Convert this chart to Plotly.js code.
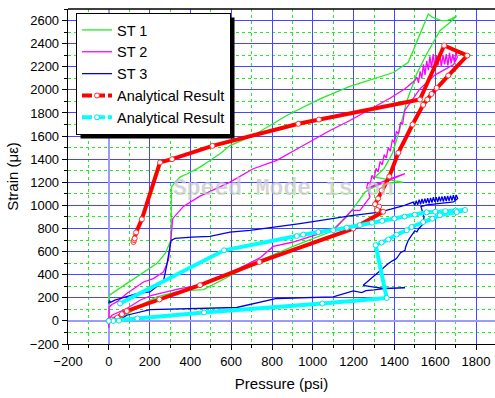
<!DOCTYPE html>
<html><head><meta charset="utf-8">
<script src="https://cdn.plot.ly/plotly-3.0.1.min.js"></script>
<style>html,body{margin:0;padding:0;background:#fff}#c{width:495px;height:398px}</style>
</head><body><div id="c"></div>
<script>
// ST 1 (green)
const st1P = [0,2,10,39,88,137,186,235,276,292,304,306,307,320,349,385,447,496,545,594,708,872,1035,1182,1320,1395,1468,1566,1585,1607,1630,1656,1680,1705,
  1672,1623,1558,1509,1460,1425,1390,1350,1305,1443,1340,1290,1256,1215,1166,1084,937,741,692,464,398,333,235,186,121,55,0];
const st1S = [150,222,232,265,323,380,438,496,582,654,697,900,1158,1190,1245,1274,1331,1389,1447,1518,1605,1778,1922,2030,2108,2150,2238,2657,2630,2614,2600,2599,2615,2642,
  2584,2512,2311,2138,1900,1650,1450,1320,1245,1200,1190,1150,1115,1015,899,769,669,525,481,271,265,251,208,164,92,21,0];
// ST 2 (magenta)
const st2P = [0,1,2,15,39,88,137,170,218,268,292,304,313,366,447,594,708,823,953,1084,1182,1300,1380,1452,
  1500,1510,1518,1526,1534,1542,1550,1558,1566,1574,1582,1590,1598,1606,1614,1622,1630,1638,1646,1654,1662,1670,1678,1686,1694,1702,1708,
  1690,1600,1525,1470,1450,1440,1430,1420,1410,1400,1390,1380,1370,1360,1350,1340,1330,1320,1310,1300,1290,1280,1270,1264,
  1350,1452,1354,1270,1280,1231,1190,1109,1000,904,806,741,600,447,349,211,153,88,15,3,0];
const st2S = [-60,60,120,142,164,237,294,337,366,424,525,697,885,991,1080,1201,1317,1389,1518,1648,1735,1850,1930,2009,
  2080,2110,2060,2160,2100,2220,2130,2250,2170,2290,2190,2310,2200,2300,2210,2320,2200,2300,2220,2310,2210,2320,2230,2310,2240,2330,2280,
  2220,2130,2009,1870,1820,1700,1720,1620,1640,1540,1570,1470,1500,1410,1440,1350,1380,1290,1320,1230,1260,1180,1200,1144,
  1200,1274,1215,1150,1072,957,957,799,740,683,645,545,420,309,280,222,179,107,49,21,0];
// ST 3 (blue)
const st3P = [0,3,8,30,137,202,268,284,305,317,325,407,496,594,692,937,1100,1198,1329,1450,
  1492,1500,1507,1514,1521,1528,1535,1542,1549,1556,1563,1570,1577,1584,1591,1598,1605,1612,1619,1626,1633,1640,1647,1654,1661,1668,1675,1682,1689,1696,1703,1710,
  1690,1620,1560,1530,1545,1541,1520,1510,1500,1480,1468,1455,1452,1430,1410,1390,1370,1340,1305,1280,1256,1247,1300,1350,1452,1350,1300,1260,1240,1198,1100,823,627,447,366,202,88,47,0];
const st3S = [150,175,160,180,237,251,345,481,697,712,715,726,732,769,784,842,885,914,942,1000,
  1028,1000,1040,1005,1050,1010,1055,1015,1058,1020,1062,1018,1065,1025,1070,1030,1072,1028,1075,1035,1078,1032,1080,1038,1082,1040,1085,1042,1088,1045,1090,1060,
  1030,1020,1005,990,900,842,800,770,780,730,697,640,611,590,540,520,496,450,395,360,323,308,292,282,287,280,268,262,245,259,208,194,116,107,107,98,49,0,0];
// Analytical Result (red)
const anRedP = [121,124,127,134,162,251,310,508,929,1030,1525,1644,1757,1664,1607,1582,1561,1541,1489,1419,1375,1337,1320,1305,1325,1315,1345,1198,738,447,248,88,64,42,15,0];
const anRedS = [683,700,714,766,880,1372,1400,1515,1706,1743,1916,2384,2297,2124,2017,1965,1916,1870,1700,1455,1250,1130,1060,1010,990,960,945,799,510,309,185,86,58,29,12,0];
// Analytical Result (cyan)
const anCyanP = [55,565,921,953,1027,1100,1166,1230,1290,1340,1400,1450,1500,1558,1600,1650,1700,1746,1705,1623,1586,1541,1484,1460,1411,1370,1337,1308,1362,1047,467,140,50,22,0];
const anCyanS = [150,611,735,747,769,784,807,829,850,866,886,903,920,940,945,950,955,960,942,914,885,856,813,784,747,704,678,655,199,150,73,21,2,0,0];

const seriesNames = ['ST 1','ST 2','ST 3','Analytical Result','Analytical Result'];

const redMarker = {symbol: 'circle', size: 5, color: '#ffffff', line: {color: '#ff3030', width: 1}};
const cyanMarker = {symbol: 'circle', size: 5, color: '#ffffff', line: {color: '#00e0e0', width: 1}};
const traces = [
  {x: st1P, y: st1S, name: seriesNames[0], mode: 'lines', line: {color: '#22ee22', width: 1.3}},
  {x: st2P, y: st2S, name: seriesNames[1], mode: 'lines', line: {color: '#ff00ff', width: 1.3}},
  {x: st3P, y: st3S, name: seriesNames[2], mode: 'lines', line: {color: '#0000ee', width: 1.3}},
  {x: anRedP, y: anRedS, name: seriesNames[3], mode: 'lines+markers', showlegend: false,
   line: {color: '#ff0000', width: 4}, marker: redMarker},
  {x: anCyanP, y: anCyanS, name: seriesNames[4], mode: 'lines+markers', showlegend: false,
   line: {color: '#00ffff', width: 4}, marker: cyanMarker},
  {x: [null], y: [null], name: seriesNames[3], mode: 'lines+markers',
   line: {color: '#ff0000', width: 4, dash: '10px,3px'}, marker: redMarker},
  {x: [null], y: [null], name: seriesNames[4], mode: 'lines+markers',
   line: {color: '#00ffff', width: 4, dash: '10px,3px'}, marker: cyanMarker}
];

const gridBlue = '#4646ff';
const minorGreen = '#22ee22';
const axisCommon = {
  showline: true, linecolor: '#000', linewidth: 1.3,
  ticks: 'outside', ticklen: 5, tickwidth: 1, tickcolor: '#000',
  showgrid: true, gridcolor: gridBlue, gridwidth: 1,
  zeroline: true, zerolinecolor: '#9a9aff', zerolinewidth: 2,
  tickfont: {family: 'Liberation Sans, Arial, sans-serif', size: 13, color: '#000'},
  minor: {dtick: 100, ticks: 'outside', ticklen: 3, tickcolor: '#000', showgrid: true, gridcolor: minorGreen, griddash: 'dot', gridwidth: 1}
};

const PL = 68, PT = 9, PW = 427, PH = 335;
const layout = {
  width: 495, height: 398,
  margin: {l: PL, r: 0, t: PT, b: 54},
  paper_bgcolor: '#fff', plot_bgcolor: '#fff',
  showlegend: true,
  xaxis: Object.assign({}, axisCommon, {
    range: [-200, 1893], dtick: 200, tick0: 0, mirror: false,
    title: {text: 'Pressure (psi)', font: {family: 'Liberation Sans, Arial, sans-serif', size: 15, color: '#000'}, standoff: 10}
  }),
  yaxis: Object.assign({}, axisCommon, {
    range: [-200, 2700], dtick: 200, tick0: 0,
    title: {text: 'Strain (με)', font: {family: 'Liberation Sans, Arial, sans-serif', size: 15, color: '#000'}, standoff: 7}
  }),
  legend: {
    x: (76 - PL) / PW, y: (PT + PH - 13) / PH, xanchor: 'left', yanchor: 'top',
    bgcolor: '#fff', bordercolor: '#000', borderwidth: 1,
    font: {family: 'Liberation Sans, Arial, sans-serif', size: 14.5, color: '#000'},
    tracegroupgap: 0, itemwidth: 30
  },
  shapes: [
    {type: 'line', xref: 'paper', yref: 'paper', x0: 0, x1: 1, y0: 1, y1: 1, line: {color: '#000', width: 1.3}}
  ],
  annotations: [
    {text: '<b>Speed Mode is on</b>', xref: 'paper', yref: 'paper', x: (283 - PL) / PW, y: (PT + PH - 189) / PH,
     showarrow: false, font: {family: 'Liberation Mono, Courier New, monospace', size: 23, color: 'rgba(200,200,200,0.75)'}}
  ]
};

Plotly.newPlot('c', traces, layout, {displayModeBar: false, staticPlot: true}).then(function (gd) {
  // legend drop shadow sized to the rendered legend box
  const bg = gd.querySelector('.legend .bg');
  const host = gd.getBoundingClientRect();
  if (bg) {
    const r = bg.getBoundingClientRect();
    const x0 = r.left - host.left + 4, x1 = r.right - host.left + 4;
    const y0 = r.top - host.top + 4, y1 = r.bottom - host.top + 4;
    const shapes = layout.shapes.concat([{
      type: 'rect', xref: 'paper', yref: 'paper', layer: 'above',
      x0: (x0 - PL) / PW, x1: (x1 - PL) / PW, y0: (PT + PH - y1) / PH, y1: (PT + PH - y0) / PH,
      fillcolor: '#000', line: {width: 0}
    }]);
    Plotly.relayout(gd, {shapes: shapes});
  }
});
</script></body></html>
